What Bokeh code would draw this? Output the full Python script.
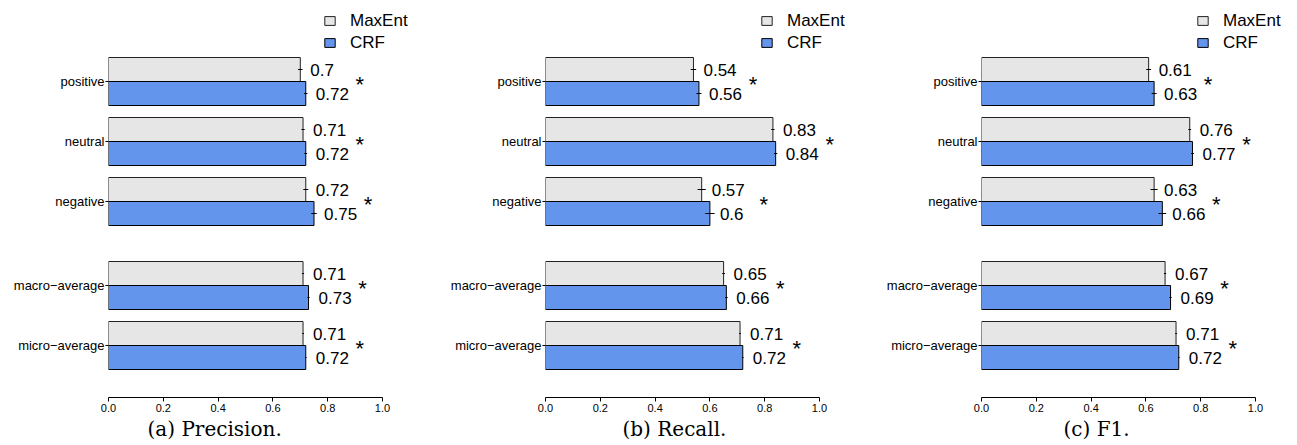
from bokeh.plotting import figure
from bokeh.models import Range1d, FixedTicker, Legend, LegendItem, Title
from bokeh.layouts import row
from bokeh.embed import file_html
from bokeh.resources import INLINE
from bokeh.core.properties import value

# ---------------- data ----------------
categories = ["positive", "neutral", "negative", "macro\u2212average", "micro\u2212average"]
series_names = ["MaxEnt", "CRF"]

precision_maxent = [0.70, 0.71, 0.72, 0.71, 0.71]
precision_crf = [0.72, 0.72, 0.75, 0.73, 0.72]
recall_maxent = [0.54, 0.83, 0.57, 0.65, 0.71]
recall_crf = [0.56, 0.84, 0.60, 0.66, 0.72]
f1_maxent = [0.61, 0.76, 0.63, 0.67, 0.71]
f1_crf = [0.63, 0.77, 0.66, 0.69, 0.72]

# half-widths of the small confidence whiskers
precision_maxent_err = [0.008, 0.006, 0.009, 0.004, 0.003]
precision_crf_err = [0.006, 0.005, 0.010, 0.004, 0.003]
recall_maxent_err = [0.010, 0.006, 0.015, 0.005, 0.003]
recall_crf_err = [0.009, 0.006, 0.017, 0.005, 0.003]
f1_maxent_err = [0.009, 0.005, 0.013, 0.004, 0.003]
f1_crf_err = [0.009, 0.005, 0.014, 0.004, 0.003]

significant = [True, True, True, True, True]

x_ticks = [0, 0.2, 0.4, 0.6, 0.8, 1.0]
x_tick_labels = ["0.0", "0.2", "0.4", "0.6", "0.8", "1.0"]

captions = ["(a) Precision.", "(b) Recall.", "(c) F1."]

# ---------------- styling / layout ----------------
MAXENT_FILL = "#e6e6e6"
CRF_FILL = "#6495ed"
SANS = "Liberation Sans"
FIG_H = 444
TOP_BORDER = 8
FRAME_H = 389
PX_PER_X = 274.0      # pixels for 0..1
PX_PER_Y = 24.0       # pixels per bar
Y_TOP = 73.0 / PX_PER_Y
Y_BOTTOM = Y_TOP - FRAME_H / PX_PER_Y

# group centers: 2.5 bars per group, extra bar gap before the averages
group_centers = [-(i * 2.5 + (1.0 if i >= 3 else 0.0)) for i in range(len(categories))]


def fmt(v):
    return f"{v:g}"


def make_panel(maxent, crf, err_m, err_c, caption, width, border_left, cap_left):
    frame_w = width - border_left
    p = figure(width=width, height=FIG_H,
               x_range=Range1d(0, frame_w / PX_PER_X),
               y_range=Range1d(Y_BOTTOM, Y_TOP),
               output_backend="svg", toolbar_location=None,
               min_border_left=border_left, min_border_right=0,
               min_border_top=TOP_BORDER,
               min_border_bottom=FIG_H - FRAME_H - TOP_BORDER)
    p.outline_line_color = None
    p.xgrid.grid_line_color = None
    p.ygrid.grid_line_color = None
    p.background_fill_color = "white"
    p.border_fill_color = "white"

    y_m = [c + 0.5 for c in group_centers]
    y_c = [c - 0.5 for c in group_centers]

    r_m = p.hbar(y=y_m, left=0, right=maxent, height=1.0,
                 fill_color=MAXENT_FILL, line_color="#222222", line_width=1)
    r_c = p.hbar(y=y_c, left=0, right=crf, height=1.0,
                 fill_color=CRF_FILL, line_color="black", line_width=1)

    # whiskers
    p.segment(x0=[v - e for v, e in zip(maxent, err_m)], x1=[v + e for v, e in zip(maxent, err_m)],
              y0=y_m, y1=y_m, line_color="black", line_width=1)
    p.segment(x0=[v - e for v, e in zip(crf, err_c)], x1=[v + e for v, e in zip(crf, err_c)],
              y0=y_c, y1=y_c, line_color="black", line_width=1)

    # value labels
    p.text(x=maxent, y=y_m, text=[fmt(v) for v in maxent], x_offset=10,
           text_align="left", text_baseline="middle", text_color="black",
           text_font=value(SANS), text_font_size="17px")
    p.text(x=crf, y=y_c, text=[fmt(v) for v in crf], x_offset=10,
           text_align="left", text_baseline="middle", text_color="black",
           text_font=value(SANS), text_font_size="17px")

    # significance stars
    sx = [v for v, s in zip(crf, significant) if s]
    sy = [c for c, s in zip(group_centers, significant) if s]
    p.text(x=sx, y=sy, text=["*"] * len(sx), x_offset=54, y_offset=3,
           text_align="center", text_baseline="alphabetic", text_color="black",
           text_font=value(SANS), text_font_size="22px")

    # axes
    xa = p.xaxis[0]
    xa.ticker = FixedTicker(ticks=x_ticks)
    xa.major_label_overrides = {t: l for t, l in zip(x_ticks, x_tick_labels)}
    xa.bounds = (0, 1)
    xa.axis_line_color = "black"
    xa.major_tick_line_color = "black"
    xa.major_tick_out = 4
    xa.major_tick_in = 0
    xa.minor_tick_line_color = None
    xa.major_label_standoff = 2
    xa.major_label_text_font = SANS
    xa.major_label_text_font_size = "11px"
    xa.major_label_text_color = "black"

    ya = p.yaxis[0]
    ya.ticker = FixedTicker(ticks=group_centers)
    ya.major_label_overrides = {c: n for c, n in zip(group_centers, categories)}
    ya.axis_line_color = None
    ya.major_tick_line_color = "black"
    ya.major_tick_out = 3
    ya.major_tick_in = 0
    ya.minor_tick_line_color = None
    ya.major_label_standoff = 1
    ya.major_label_text_font = SANS
    ya.major_label_text_font_size = "13px"
    ya.major_label_text_color = "black"

    legend = Legend(items=[LegendItem(label=series_names[0], renderers=[r_m]),
                           LegendItem(label=series_names[1], renderers=[r_c])],
                    location=(215, 344.5), orientation="vertical",
                    glyph_width=13, glyph_height=11, label_standoff=14,
                    label_height=20, spacing=2, padding=0, margin=0,
                    border_line_alpha=0, background_fill_alpha=0,
                    label_text_font=SANS, label_text_font_size="17px",
                    label_text_color="black")
    p.add_layout(legend, "center")

    p.add_layout(Title(text=caption, align="left", offset=cap_left,
                       text_font="DejaVu Serif", text_font_size="20px",
                       text_font_style="normal", text_color="black",
                       standoff=0), "below")
    return p


p1 = make_panel(precision_maxent, precision_crf, precision_maxent_err, precision_crf_err,
                captions[0], 440, 108, 39)
p2 = make_panel(recall_maxent, recall_crf, recall_maxent_err, recall_crf_err,
                captions[1], 432, 105, 77)
p3 = make_panel(f1_maxent, f1_crf, f1_maxent_err, f1_crf_err,
                captions[2], 420, 109, 82)

layout = row(p1, p2, p3)
open("out.html", "w").write(file_html(layout, INLINE))
